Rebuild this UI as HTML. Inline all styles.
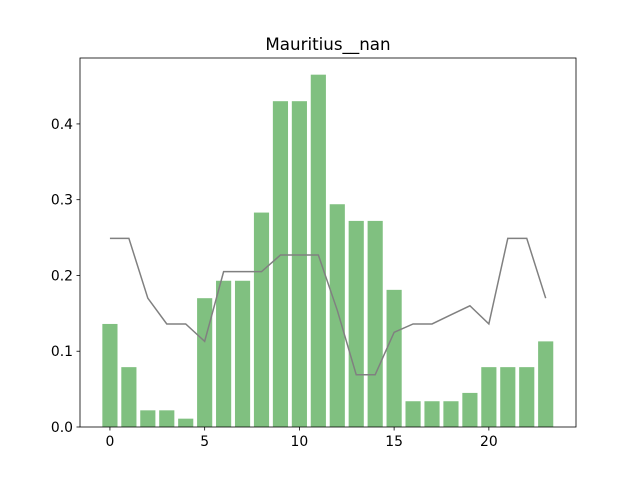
<!DOCTYPE html>
<html><head><meta charset="utf-8"><style>body{margin:0;background:#fff}svg{display:block;font-family:"DejaVu Sans","Liberation Sans",sans-serif}</style></head>
<body>
<svg id="chart" width="640" height="480"></svg>
<script>
const categories=[0,1,2,3,4,5,6,7,8,9,10,11,12,13,14,15,16,17,18,19,20,21,22,23];
const barValues=[0.136,0.079,0.022,0.022,0.011,0.170,0.193,0.193,0.283,0.430,0.430,0.465,0.294,0.272,0.272,0.181,0.034,0.034,0.034,0.045,0.079,0.079,0.079,0.113];
const lineValues=[0.249,0.249,0.170,0.136,0.136,0.113,0.205,0.205,0.205,0.227,0.227,0.227,0.154,0.069,0.069,0.125,0.136,0.136,0.148,0.160,0.136,0.249,0.249,0.170];
const xTicks=[0,5,10,15,20];
const yTicks=[0,0.1,0.2,0.3,0.4];
const yTickLabels=["0.0","0.1","0.2","0.3","0.4"];
const L=80,R=576,T=58,B=427,xmin=-1.58,xmax=24.6,ymin=0,ymax=0.487;
const X=v=>L+(v-xmin)/(xmax-xmin)*(R-L);
const Y=v=>B-(v-ymin)/(ymax-ymin)*(B-T);
const svg=document.getElementById('chart');const NS='http://www.w3.org/2000/svg';
function mk(t,a,p){const e=document.createElementNS(NS,t);for(const k in a)e.setAttribute(k,a[k]);(p||svg).appendChild(e);return e;}
const bars=mk('g',{});


categories.forEach((c,i)=>{const x0=X(c-0.4),x1=X(c+0.4);
const r=mk('rect',{x:x0,y:Y(barValues[i]),width:x1-x0,height:Y(0)-Y(barValues[i]),fill:'#80c080'},bars);

});
const pl=mk('polyline',{points:categories.map((c,i)=>X(c)+','+Y(lineValues[i])).join(' '),fill:'none',stroke:'#808080','stroke-width':1.5});


const fr=mk('rect',{x:L,y:T,width:R-L,height:B-T,fill:'none',stroke:'#000','stroke-width':0.8});


xTicks.forEach(t=>{mk('line',{x1:X(t),x2:X(t),y1:B,y2:B+3.5,stroke:'#000','stroke-width':0.8});
const tx=mk('text',{x:X(t),y:B+19,'font-size':13.9,'text-anchor':'middle'});tx.textContent=t;

});
yTicks.forEach((t,i)=>{mk('line',{x1:L-3.5,x2:L,y1:Y(t),y2:Y(t),stroke:'#000','stroke-width':0.8});
const tx=mk('text',{x:L-7,y:Y(t)+5,'font-size':13.9,'text-anchor':'end'});tx.textContent=yTickLabels[i];

});
const ti=mk('text',{x:(L+R)/2,y:T-8,'font-size':16.7,'text-anchor':'middle'});ti.textContent='Mauritius__nan';


</script>
</body></html>
